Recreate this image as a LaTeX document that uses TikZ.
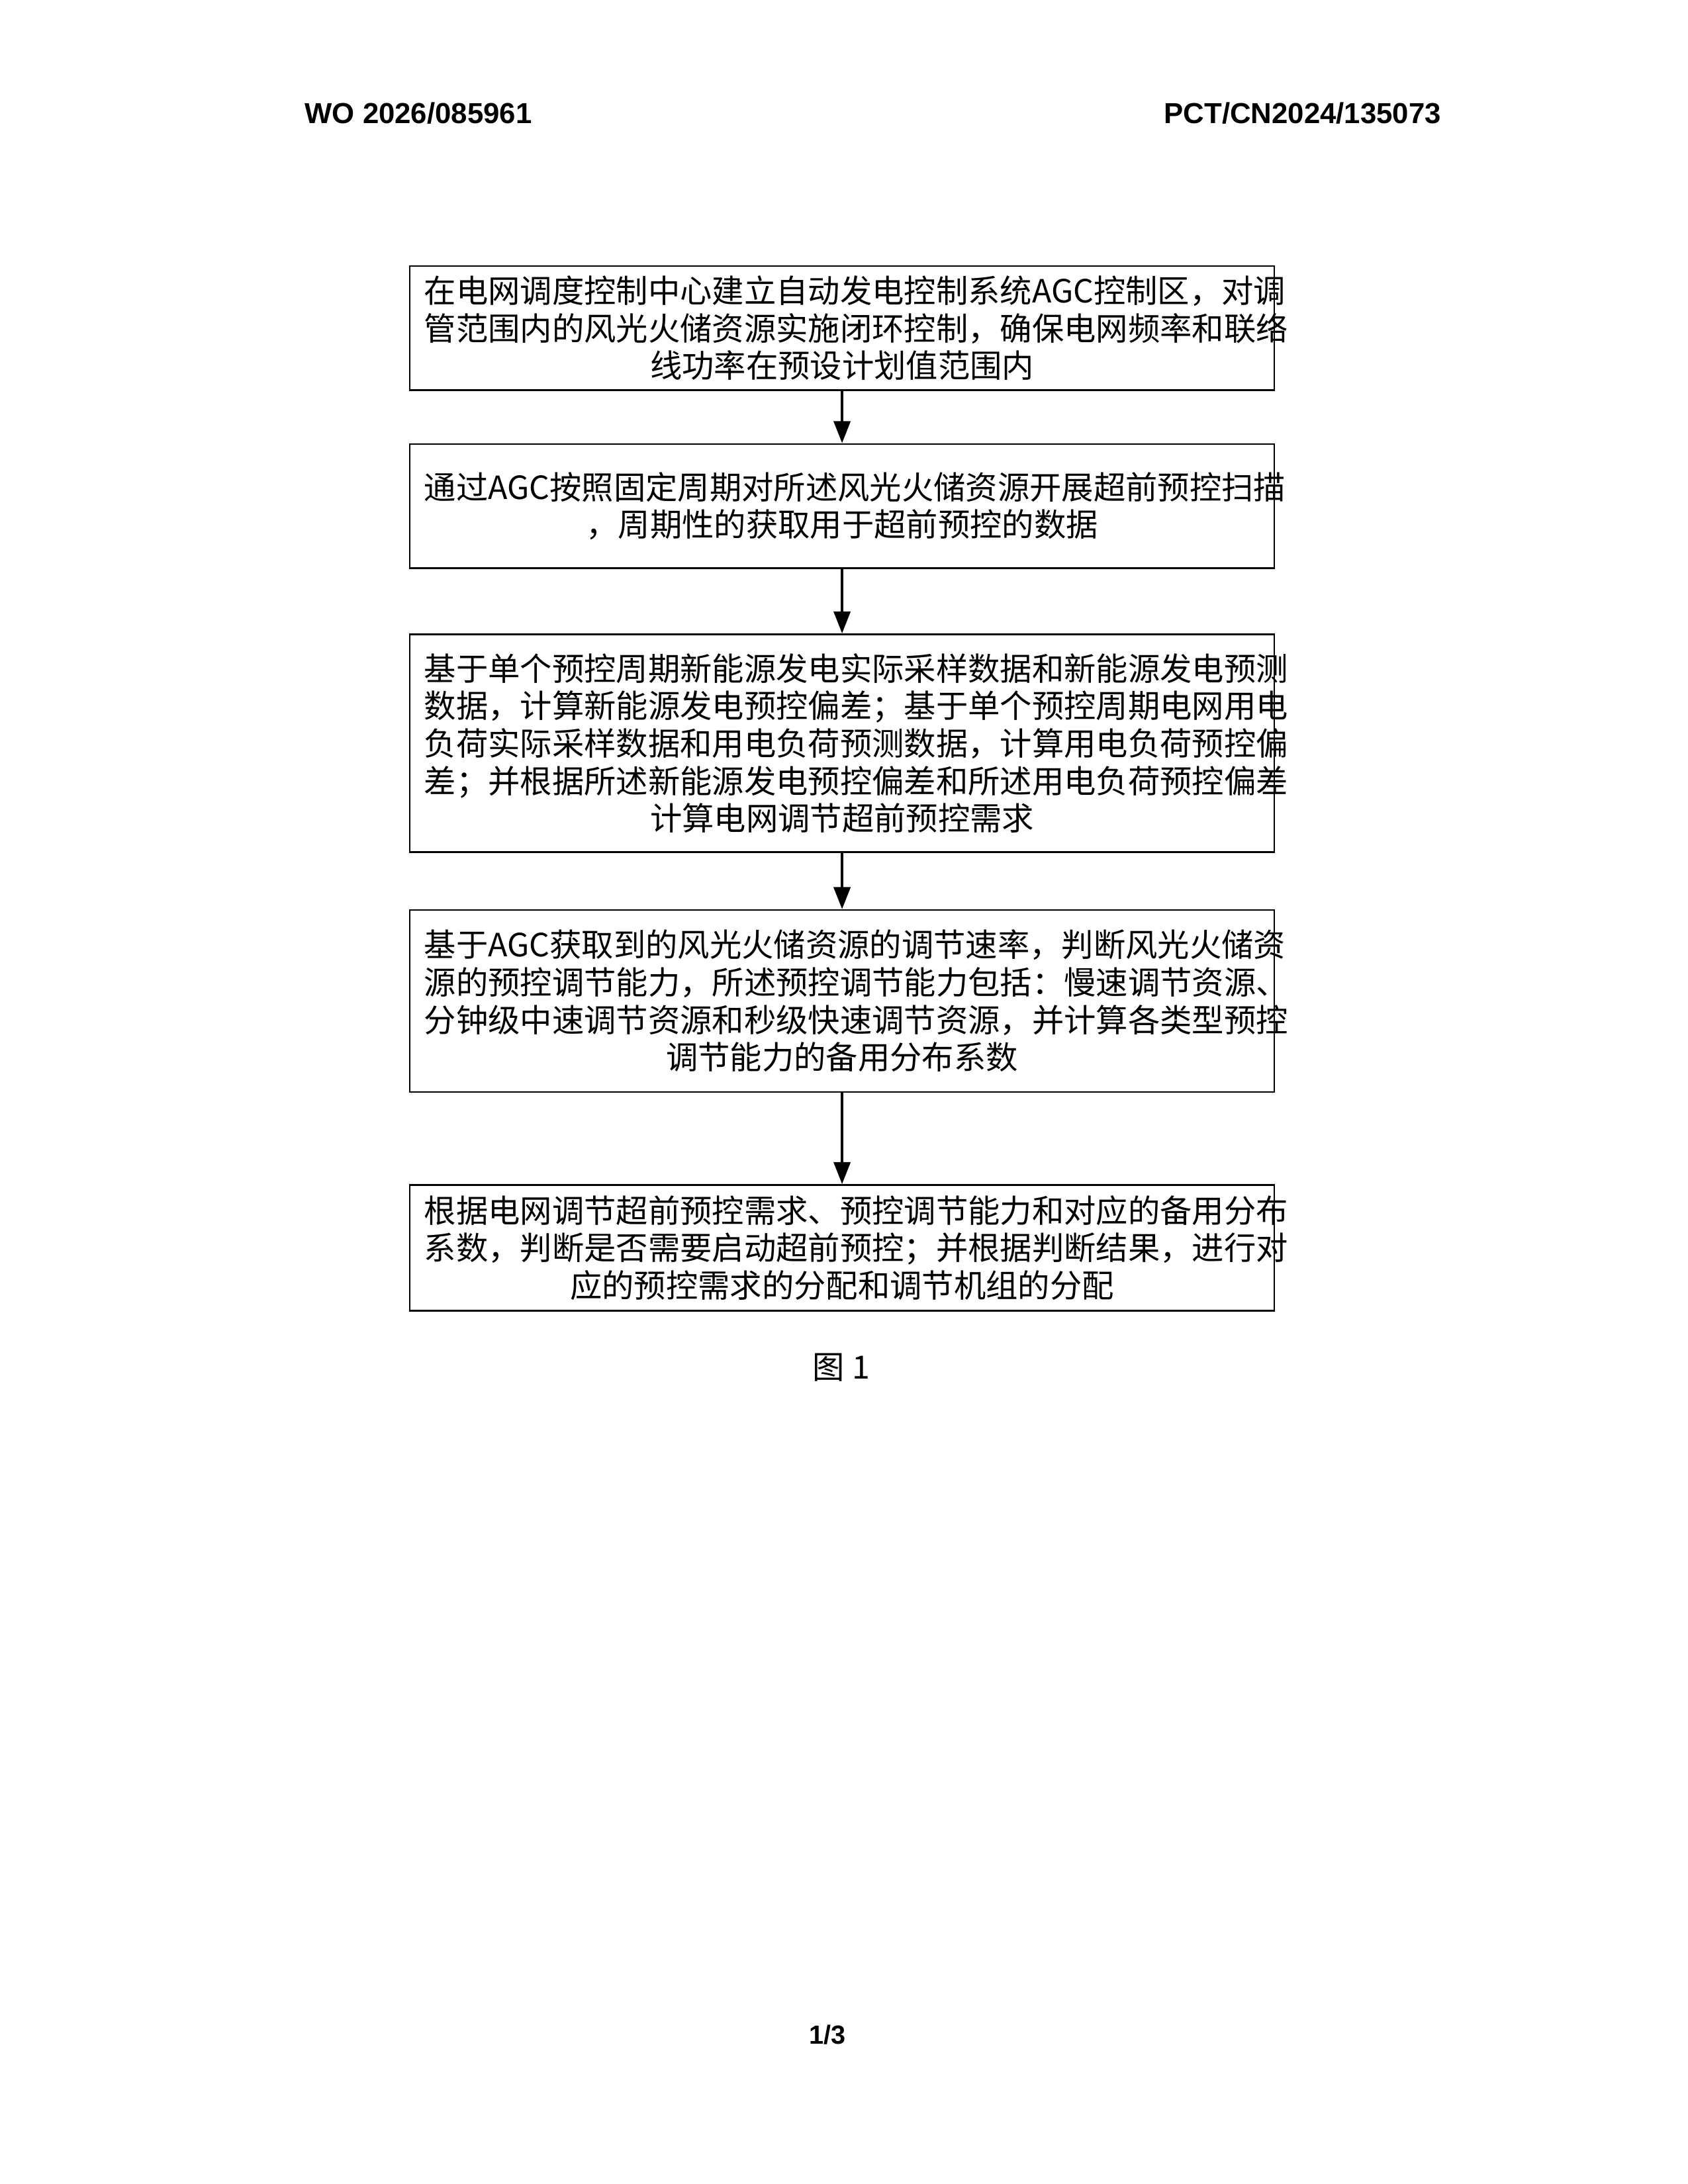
\documentclass[tikz,border=0pt]{standalone}
\usepackage{fontspec}
\setmainfont{Liberation Sans}
\newfontfamily\cjk{Noto Sans CJK SC}
\usetikzlibrary{arrows.meta}
\begin{document}
\begin{tikzpicture}[x=1pt,y=-1pt,
  stepbox/.style={draw,line width=0.6pt,minimum width=313.4pt,text width=303pt,align=center,inner sep=0pt,font=\cjk\fontsize{11.6}{13.6}\selectfont},
  arr/.style={-{Triangle[length=8pt,width=6pt]},line width=1pt}]
\useasboundingbox (0,0) rectangle (612,792);
\node[font=\bfseries\fontsize{10.5}{12}\selectfont,anchor=west] (hl) at (107,41) {WO 2026/085961};
\node[font=\bfseries\fontsize{10.5}{12}\selectfont,anchor=east] (hr) at (526,41) {PCT/CN2024/135073};
\node[stepbox,minimum height=45pt] (b1) at (305.3,119) {在电网调度控制中心建立自动发电控制系统AGC控制区，对调\\管范围内的风光火储资源实施闭环控制，确保电网频率和联络\\线功率在预设计划值范围内};
\node[stepbox,minimum height=45pt] (b2) at (305.3,183.5) {通过AGC按照固定周期对所述风光火储资源开展超前预控扫描\\，周期性的获取用于超前预控的数据};
\node[stepbox,minimum height=79pt] (b3) at (305.3,269.5) {基于单个预控周期新能源发电实际采样数据和新能源发电预测\\数据，计算新能源发电预控偏差；基于单个预控周期电网用电\\负荷实际采样数据和用电负荷预测数据，计算用电负荷预控偏\\差；并根据所述新能源发电预控偏差和所述用电负荷预控偏差\\计算电网调节超前预控需求};
\node[stepbox,minimum height=66pt] (b4) at (305.3,363) {基于AGC获取到的风光火储资源的调节速率，判断风光火储资\\源的预控调节能力，所述预控调节能力包括：慢速调节资源、\\分钟级中速调节资源和秒级快速调节资源，并计算各类型预控\\调节能力的备用分布系数};
\node[stepbox,minimum height=45.6pt] (b5) at (305.3,452.5) {根据电网调节超前预控需求、预控调节能力和对应的备用分布\\系数，判断是否需要启动超前预控；并根据判断结果，进行对\\应的预控需求的分配和调节机组的分配};
\draw[arr] (b1) -- (b2);
\draw[arr] (b2) -- (b3);
\draw[arr] (b3) -- (b4);
\draw[arr] (b4) -- (b5);
\node[font=\cjk\fontsize{11.6}{13}\selectfont] (cap) at (305,496) {图 1};
\node[font=\bfseries\fontsize{9.5}{11}\selectfont] (ft) at (300,738) {1/3};
\end{tikzpicture}
\end{document}
